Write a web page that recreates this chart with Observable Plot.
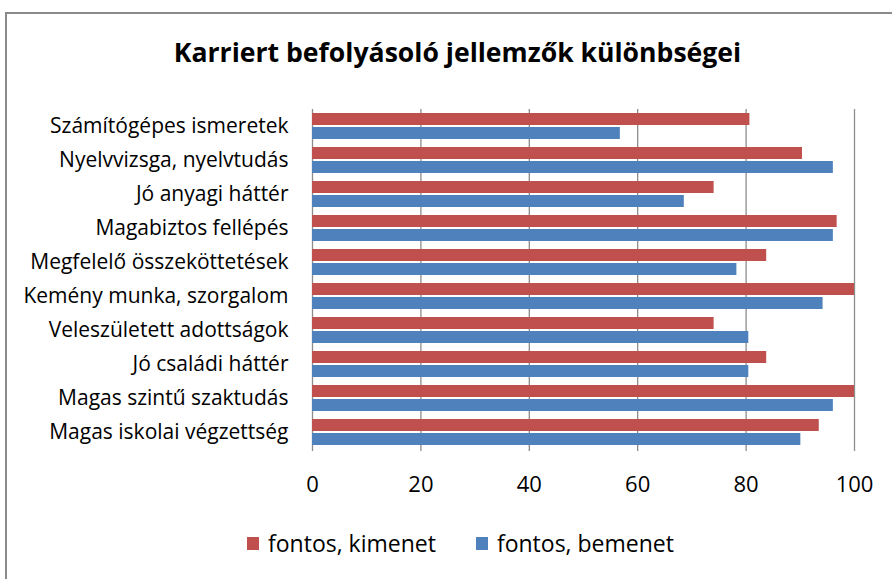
<!DOCTYPE html>
<html>
<head>
<meta charset="utf-8">
<script src="https://cdn.jsdelivr.net/npm/d3@7"></script>
<script src="https://cdn.jsdelivr.net/npm/@observablehq/plot@0.6"></script>
<style>
  html, body { margin: 0; padding: 0; background: #fff; overflow: hidden; }
  body { width: 892px; height: 579px; position: relative; font-family: "Open Sans", sans-serif; }
  #frame { position: absolute; left: 5px; top: 12px; width: 910px; height: 600px; border: 2px solid #8a8a8a; box-sizing: border-box; }
  #title { position: absolute; left: 5px; width: 905px; top: 39px; text-align: center; font-weight: bold; font-size: 26.6px; line-height: 26.6px; color: #000; }
  #chart { position: absolute; left: 0; top: 90px; }
  #legend { position: absolute; top: 532px; left: 247px; font-size: 23px; line-height: 23px; color: #000; display: flex; align-items: center; }
  .item { display: flex; align-items: center; margin-right: 40px; }
  .sw { width: 12px; height: 13px; margin-right: 9px; }
</style>
</head>
<body>
<div id="frame"></div>
<div id="title">Karriert befolyásoló jellemzők különbségei</div>
<div id="chart"></div>
<div id="legend"></div>
<script>
const categories = [
  "Számítógépes ismeretek",
  "Nyelvvizsga, nyelvtudás",
  "Jó anyagi háttér",
  "Magabiztos fellépés",
  "Megfelelő összeköttetések",
  "Kemény munka, szorgalom",
  "Veleszületett adottságok",
  "Jó családi háttér",
  "Magas szintű szaktudás",
  "Magas iskolai végzettség"
];
const series = ["fontos, kimenet", "fontos, bemenet"];
const kimenet = [80.7, 90.4, 74.1, 96.8, 83.8, 100, 74.1, 83.8, 100, 93.5];
const bemenet = [56.8, 96.1, 68.6, 96.1, 78.3, 94.2, 80.5, 80.5, 96.1, 90.1];
const xTicks = [0, 20, 40, 60, 80, 100];
const colors = ["#C0504D", "#4F81BD"];

const rows = [];
categories.forEach((c, i) => {
  rows.push({category: c, series: series[0], value: kimenet[i]});
  rows.push({category: c, series: series[1], value: bemenet[i]});
});

const chart = Plot.plot({
  width: 892,
  height: 413,
  marginLeft: 312,
  marginRight: 38,
  marginTop: 15,
  marginBottom: 50,
  style: {fontFamily: "Open Sans", fontSize: "21px", color: "#000", background: "transparent", overflow: "visible"},
  x: {domain: [0, 100], axis: null},
  y: {domain: series, paddingInner: 0.16, paddingOuter: 0.28, axis: null},
  fy: {domain: categories, padding: 0, label: null, tickSize: 0, tickPadding: 24},
  color: {domain: series, range: colors},
  marks: [
    Plot.gridX(xTicks, {stroke: "#8c8c8c", strokeOpacity: 1, strokeWidth: 1.3}),
    Plot.barX(rows, {x: "value", y: "series", fy: "category", fill: "series"}),
    Plot.axisX(xTicks, {tickSize: 2, tickPadding: 25, fontSize: 22, stroke: "#8c8c8c", strokeWidth: 1.3, label: null})
  ]
});
document.getElementById("chart").appendChild(chart);

const legend = document.getElementById("legend");
series.forEach((s, i) => {
  const it = document.createElement("div");
  it.className = "item";
  const sw = document.createElement("div");
  sw.className = "sw";
  sw.style.background = colors[i];
  const t = document.createElement("span");
  t.textContent = s;
  it.appendChild(sw);
  it.appendChild(t);
  legend.appendChild(it);
});
</script>
</body>
</html>
